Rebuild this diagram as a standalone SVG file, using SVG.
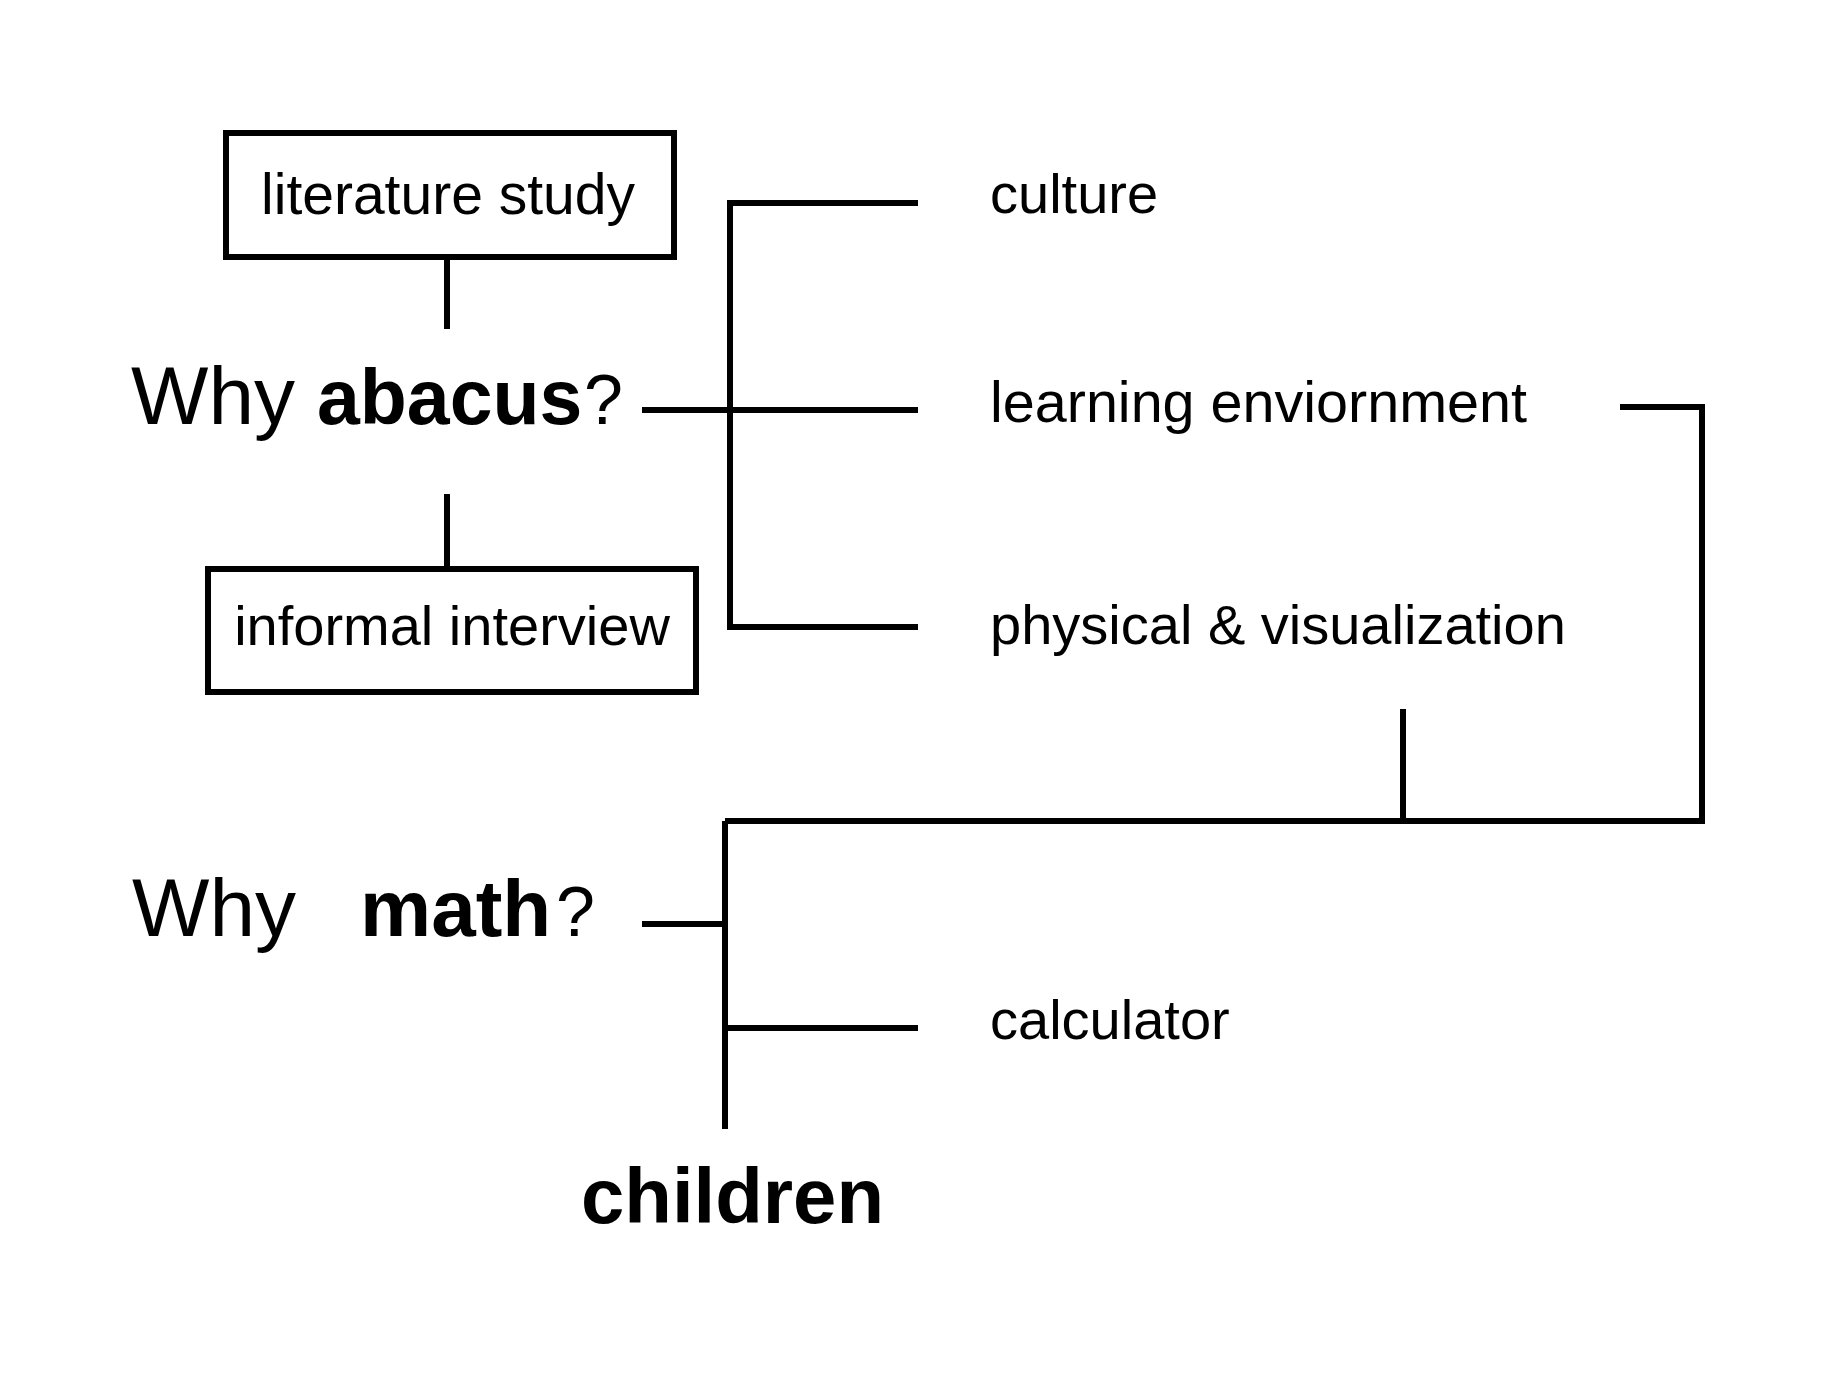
<svg xmlns="http://www.w3.org/2000/svg" width="1836" height="1377" viewBox="0 0 1836 1377">
<style>
.t{font-family:"Liberation Sans",Arial,sans-serif;font-size:56px;fill:#000}
.big{font-family:"Liberation Sans",Arial,sans-serif;font-size:82px;fill:#000}
.b{font-weight:bold}
.box{fill:#fff;stroke:#000;stroke-width:6}
.ln{fill:none;stroke:#000;stroke-width:6;stroke-linejoin:miter;stroke-linecap:butt}
</style>
<rect width="1836" height="1377" fill="#fff"/>
<g id="connectors">
<path class="ln" d="M447 257V329"/>
<path class="ln" d="M447 494V569"/>
<path class="ln" d="M642 410H918"/>
<path class="ln" d="M918 203H730V627H918"/>
<path class="ln" d="M1620 407H1702V821H725"/>
<path class="ln" d="M1403 709V821"/>
<path class="ln" d="M725 821V1129"/>
<path class="ln" d="M642 924H725"/>
<path class="ln" d="M725 1028H918"/>
</g>
<g id="literature-study">
<rect class="box" x="226" y="133" width="448" height="124"/>
<text class="t" x="448" y="214" text-anchor="middle" style="font-size:57px">literature study</text>
</g>
<g id="informal-interview">
<rect class="box" x="208" y="569" width="488" height="123"/>
<text class="t" x="452" y="645" text-anchor="middle">informal interview</text>
</g>
<g id="why-abacus">
<text class="big" y="424"><tspan x="131">Why</tspan><tspan x="317" class="b" style="font-size:77px">abacus</tspan><tspan x="584" style="font-size:70px">?</tspan></text>
</g>
<g id="why-math">
<text class="big" y="936"><tspan x="132">Why</tspan><tspan x="360" class="b" style="font-size:80px">math</tspan><tspan x="556" style="font-size:70px">?</tspan></text>
</g>
<g id="children">
<text class="big b" x="581" y="1223" style="font-size:78px" textLength="303" lengthAdjust="spacingAndGlyphs">children</text>
</g>
<g id="culture"><text class="t" x="990" y="213">culture</text></g>
<g id="learning-environment"><text class="t" x="990" y="422" style="font-size:57.5px">learning enviornment</text></g>
<g id="physical-visualization"><text class="t" x="990" y="644">physical &amp; visualization</text></g>
<g id="calculator"><text class="t" x="990" y="1039">calculator</text></g>
</svg>
